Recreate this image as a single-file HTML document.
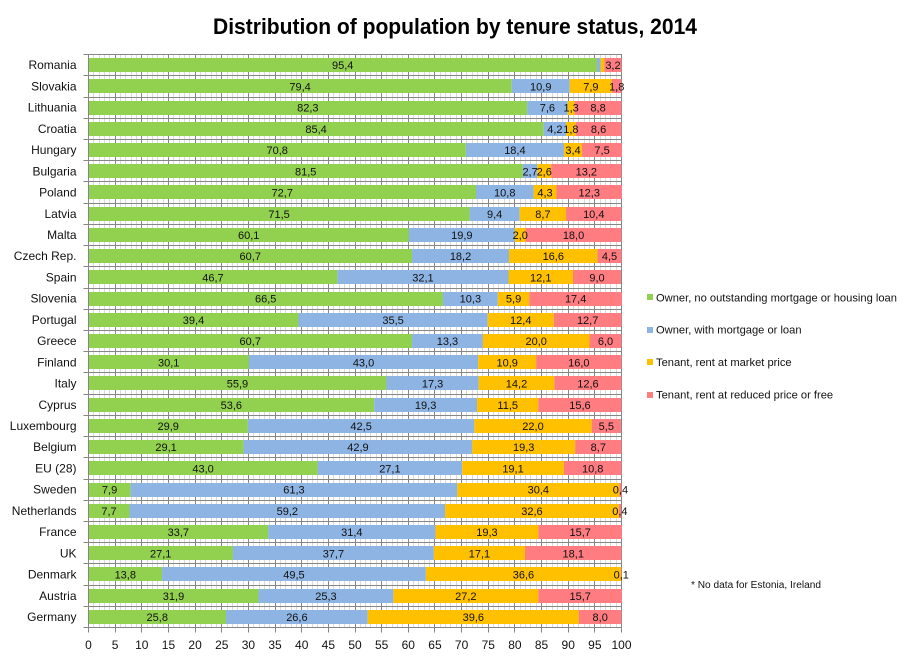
<!DOCTYPE html>
<html>
<head>
<meta charset="utf-8">
<title>Distribution of population by tenure status, 2014</title>
<style>
html,body{margin:0;padding:0;background:#fff;}
svg{display:block;}
text{font-family:"Liberation Sans",sans-serif;fill:#111;}
</style>
</head>
<body>
<svg id="chart" xmlns="http://www.w3.org/2000/svg" width="910" height="661" viewBox="0 0 910 661">
<rect width="910" height="661" fill="#fff"/>
<text x="455" y="34" text-anchor="middle" font-size="22" font-weight="bold" fill="#000" style="fill:#000" textLength="484" lengthAdjust="spacingAndGlyphs">Distribution of population by tenure status, 2014</text>
<g id="grid"></g>
<g id="bars"></g>
<g id="axes"></g>
<g id="labels"></g>
<g id="legend"></g>
<text x="691" y="588" font-size="10" textLength="130" lengthAdjust="spacingAndGlyphs">* No data for Estonia, Ireland</text>
</svg>
<script>
const categories = ["Romania","Slovakia","Lithuania","Croatia","Hungary","Bulgaria","Poland","Latvia","Malta","Czech Rep.","Spain","Slovenia","Portugal","Greece","Finland","Italy","Cyprus","Luxembourg","Belgium","EU (28)","Sweden","Netherlands","France","UK","Denmark","Austria","Germany"];
const ownerOutright = [95.4,79.4,82.3,85.4,70.8,81.5,72.7,71.5,60.1,60.7,46.7,66.5,39.4,60.7,30.1,55.9,53.6,29.9,29.1,43.0,7.9,7.7,33.7,27.1,13.8,31.9,25.8];
const ownerMortgage = [0.7,10.9,7.6,4.2,18.4,2.7,10.8,9.4,19.9,18.2,32.1,10.3,35.5,13.3,43.0,17.3,19.3,42.5,42.9,27.1,61.3,59.2,31.4,37.7,49.5,25.3,26.6];
const tenantMarket = [0.7,7.9,1.3,1.8,3.4,2.6,4.3,8.7,2.0,16.6,12.1,5.9,12.4,20.0,10.9,14.2,11.5,22.0,19.3,19.1,30.4,32.6,19.3,17.1,36.6,27.2,39.6];
const tenantReduced = [3.2,1.8,8.8,8.6,7.5,13.2,12.3,10.4,18.0,4.5,9.0,17.4,12.7,6.0,16.0,12.6,15.6,5.5,8.7,10.8,0.4,0.4,15.7,18.1,0.1,15.7,8.0];
const seriesNames = ["Owner, no outstanding mortgage or housing loan","Owner, with mortgage or loan","Tenant, rent at market price","Tenant, rent at reduced price or free"];
const seriesValues = [ownerOutright, ownerMortgage, tenantMarket, tenantReduced];
const seriesColors = ["#92D050","#8DB4E2","#FFC000","#FF7C80"];
const unlabelledValues = ["Romania|1","Romania|2"];
const xTicks = [0,5,10,15,20,25,30,35,40,45,50,55,60,65,70,75,80,85,90,95,100];

const NS = "http://www.w3.org/2000/svg";
const plotLeft = 88.5, plotRight = 621.5, plotTop = 54.6, plotBottom = 627.6;
const xMax = 100;
const bandStep = (plotBottom - plotTop) / categories.length;
const barHeight = bandStep / 1.5;
function xScale(v){ return plotLeft + (v / xMax) * (plotRight - plotLeft); }
function yBand(i){ return plotTop + i * bandStep; }
function crisp(p){ return Math.floor(p) + 0.5; }
function make(parent, tag, attrs){
  const el = document.createElementNS(NS, tag);
  for (const k in attrs) el.setAttribute(k, attrs[k]);
  parent.appendChild(el);
  return el;
}
const gridG = document.getElementById("grid");
const barsG = document.getElementById("bars");
const axesG = document.getElementById("axes");
const labelsG = document.getElementById("labels");
const legendG = document.getElementById("legend");

// minor vertical gridlines
for (let v = 0; v <= xMax; v++) {
  if (v % 5 === 0) continue;
  const x = crisp(xScale(v));
  const ln = make(gridG, "line", {x1:x, x2:x, y1:crisp(plotTop), y2:crisp(plotBottom), stroke:"#D9D9D9", "stroke-width":1});
  
  
}
// major vertical gridlines and x ticks
xTicks.forEach(function(t){
  const x = crisp(xScale(t));
  const ln = make(gridG, "line", {x1:x, x2:x, y1:crisp(plotTop), y2:crisp(plotBottom) + 5, stroke:"#868686", "stroke-width":1});
  
  
  const lb = make(axesG, "text", {x:xScale(t), y:649, "text-anchor":"middle", "font-size":12});
  lb.textContent = String(t);
  
  
});
// horizontal gridlines and y ticks
for (let i = 0; i <= categories.length; i++) {
  const y = crisp(yBand(i));
  const ln = make(gridG, "line", {x1:plotLeft - 5, x2:plotRight + 0.5, y1:y, y2:y, stroke:"#868686", "stroke-width":1});
  
  
}
// bars and labels
categories.forEach(function(cat, i){
  const by = Math.round(yBand(i) + (bandStep - barHeight) / 2);
  const bh = Math.round(barHeight);
  let cum = 0;
  const cy = yBand(i) + bandStep / 2;
  const lab = make(axesG, "text", {x:76.5, y:cy + 4, "text-anchor":"end", "font-size":12});
  lab.textContent = cat;
  
  
  seriesValues.forEach(function(values, s){
    const v = values[i];
    const x0 = xScale(cum), x1 = xScale(cum + v);
    const r = make(barsG, "rect", {x:x0, y:by, width:Math.max(0, x1 - x0), height:bh, fill:seriesColors[s]});
    
    
    if (unlabelledValues.indexOf(cat + "|" + s) < 0) {
      const t = make(labelsG, "text", {x:(x0 + x1) / 2, y:cy + 4, "text-anchor":"middle", "font-size":11});
      t.textContent = v.toFixed(1).replace(".", ",");
      
      
    }
    cum += v;
  });
});
// axis line on top of bars
const axisLine = make(axesG, "line", {x1:crisp(plotLeft), x2:crisp(plotLeft), y1:crisp(plotTop), y2:crisp(plotBottom) + 5, stroke:"#868686", "stroke-width":1});


// legend
seriesNames.forEach(function(name, s){
  const ly = 297.3 + s * 32.4;
  const sw = make(legendG, "rect", {x:647, y:Math.round(ly - 3), width:6, height:6, fill:seriesColors[s]});
  
  
  const t = make(legendG, "text", {x:656, y:ly + 4, "font-size":11.15});
  t.textContent = name;
  
  
});
</script>
</body>
</html>
